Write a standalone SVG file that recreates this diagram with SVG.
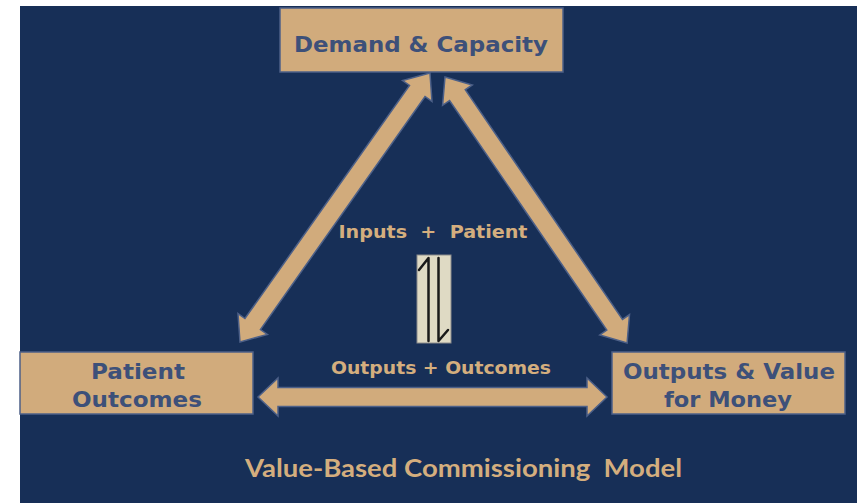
<svg xmlns="http://www.w3.org/2000/svg" width="861" height="503" viewBox="0 0 861 503">
  <defs>
    <style>
      .box { fill: #d1ab7c; stroke: #4d6088; stroke-width: 1.5; }
      .node-text { font-family: "DejaVu Sans", Verdana, sans-serif; font-weight: bold; font-size: 22px; fill: #3d5079; text-anchor: middle; }
      .link-text { font-family: "DejaVu Sans", Verdana, sans-serif; font-weight: bold; font-size: 17px; fill: #d4ae7e; text-anchor: middle; }
      .title { font-family: Lato, "Open Sans", sans-serif; font-weight: bold; font-size: 25px; fill: #d4ae7e; text-anchor: middle; }
      .arrow { fill: #d1ab7c; stroke: #4d6088; stroke-width: 1.5; stroke-linejoin: miter; }
      .harpoon { fill: none; stroke: #1a1a1a; stroke-width: 2.5; stroke-linecap: round; stroke-linejoin: round; }
    </style>
  </defs>

  <!-- backdrop -->
  <rect x="0" y="0" width="861" height="503" fill="#ffffff"/>
  <rect x="20" y="6" width="837" height="497" fill="#172f57"/>

  <!-- connectors: double-headed block arrows -->
  <g id="connectors">
    <!-- Patient Outcomes <-> Demand & Capacity -->
    <polygon class="arrow" transform="translate(240,342) rotate(-54.77)"
      points="0,0 22,-18 22,-9.5 307.3,-9.5 307.3,-18 329.3,0 307.3,18 307.3,9.5 22,9.5 22,18"/>
    <!-- Demand & Capacity <-> Outputs & Value -->
    <polygon class="arrow" transform="translate(445,77) rotate(55.6)"
      points="0,0 22,-18 22,-9.5 300.3,-9.5 300.3,-18 322.3,0 300.3,18 300.3,9.5 22,9.5 22,18"/>
    <!-- Patient Outcomes <-> Outputs & Value -->
    <polygon class="arrow" transform="translate(258,397)"
      points="0,0 20,-19 20,-9.5 329,-9.5 329,-19 349,0 329,19 329,9.5 20,9.5 20,19"/>
  </g>

  <g id="node-demand">
    <rect class="box" x="280" y="8" width="283" height="64"/>
    <text class="node-text" x="421" y="52" textLength="254" lengthAdjust="spacingAndGlyphs">Demand &amp; Capacity</text>
  </g>

  <g id="node-patient-outcomes">
    <rect class="box" x="20" y="352" width="233" height="62"/>
    <text class="node-text" x="138" y="379" textLength="94" lengthAdjust="spacingAndGlyphs">Patient</text>
    <text class="node-text" x="137" y="407" textLength="130" lengthAdjust="spacingAndGlyphs">Outcomes</text>
  </g>

  <g id="node-outputs-value">
    <rect class="box" x="612" y="352" width="233" height="62"/>
    <text class="node-text" x="729" y="379" textLength="212" lengthAdjust="spacingAndGlyphs">Outputs &amp; Value</text>
    <text class="node-text" x="728" y="407" textLength="128" lengthAdjust="spacingAndGlyphs">for Money</text>
  </g>

  <g id="center-labels">
    <text class="link-text" x="433" y="238" textLength="189" lengthAdjust="spacingAndGlyphs">Inputs &#160;+ &#160;Patient</text>
    <text class="link-text" x="441" y="374" textLength="220" lengthAdjust="spacingAndGlyphs">Outputs + Outcomes</text>
  </g>

  <!-- equilibrium harpoon symbol -->
  <g id="node-exchange">
    <rect x="417" y="255" width="34" height="88" fill="#dfdac4" stroke="#8c8c8c" stroke-width="1"/>
    <path class="harpoon" d="M428.5,341 V258 L419,270"/>
    <path class="harpoon" d="M438.5,258 V341 L448,330"/>
  </g>

  <text class="title" x="463.5" y="477" textLength="437" lengthAdjust="spacingAndGlyphs">Value-Based Commissioning &#160;Model</text>
</svg>
